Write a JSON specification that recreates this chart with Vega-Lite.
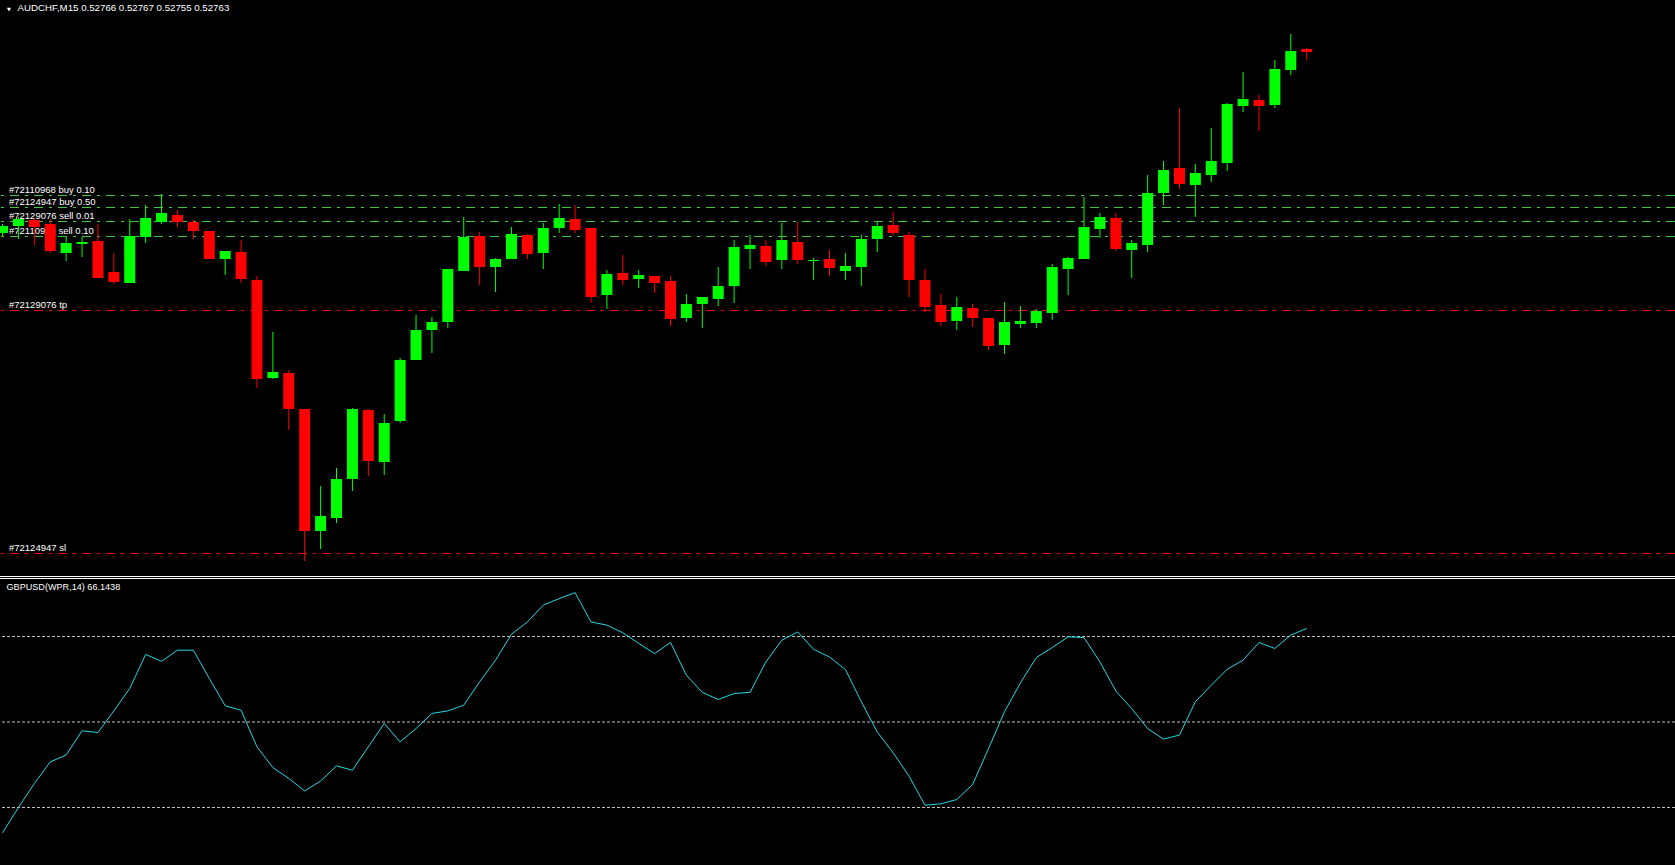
{
  "$schema": "https://vega.github.io/schema/vega-lite/v6.json",
  "width": 1675,
  "height": 865,
  "padding": 0,
  "autosize": {"type": "none"},
  "background": "#000000",
  "config": {"view": {"stroke": null}},
  "datasets": {
    "candles": [
      {"i":-1,"o":0.52582,"h":0.52591,"l":0.52579,"c":0.52589},
      {"i":0,"o":0.52589,"h":0.52598,"l":0.52576,"c":0.52596},
      {"i":1,"o":0.52595,"h":0.52597,"l":0.52570,"c":0.52588},
      {"i":2,"o":0.52591,"h":0.52596,"l":0.52562,"c":0.52564},
      {"i":3,"o":0.52562,"h":0.52578,"l":0.52554,"c":0.52572},
      {"i":4,"o":0.52571,"h":0.52578,"l":0.52558,"c":0.52573},
      {"i":5,"o":0.52574,"h":0.52591,"l":0.52537,"c":0.52537},
      {"i":6,"o":0.52543,"h":0.52562,"l":0.52531,"c":0.52533},
      {"i":7,"o":0.52532,"h":0.52596,"l":0.52532,"c":0.52579},
      {"i":8,"o":0.52578,"h":0.52610,"l":0.52572,"c":0.52597},
      {"i":9,"o":0.52593,"h":0.52621,"l":0.52591,"c":0.52602},
      {"i":10,"o":0.52600,"h":0.52605,"l":0.52588,"c":0.52593},
      {"i":11,"o":0.52593,"h":0.52595,"l":0.52576,"c":0.52584},
      {"i":12,"o":0.52584,"h":0.52584,"l":0.52556,"c":0.52556},
      {"i":13,"o":0.52556,"h":0.52564,"l":0.52540,"c":0.52564},
      {"i":14,"o":0.52563,"h":0.52575,"l":0.52532,"c":0.52536},
      {"i":15,"o":0.52535,"h":0.52539,"l":0.52427,"c":0.52436},
      {"i":16,"o":0.52437,"h":0.52483,"l":0.52436,"c":0.52443},
      {"i":17,"o":0.52442,"h":0.52445,"l":0.52385,"c":0.52406},
      {"i":18,"o":0.52406,"h":0.52406,"l":0.52254,"c":0.52284},
      {"i":19,"o":0.52284,"h":0.52329,"l":0.52266,"c":0.52299},
      {"i":20,"o":0.52297,"h":0.52347,"l":0.52292,"c":0.52336},
      {"i":21,"o":0.52336,"h":0.52407,"l":0.52324,"c":0.52406},
      {"i":22,"o":0.52405,"h":0.52406,"l":0.52339,"c":0.52354},
      {"i":23,"o":0.52353,"h":0.52401,"l":0.52340,"c":0.52392},
      {"i":24,"o":0.52394,"h":0.52457,"l":0.52392,"c":0.52455},
      {"i":25,"o":0.52455,"h":0.52500,"l":0.52455,"c":0.52485},
      {"i":26,"o":0.52485,"h":0.52498,"l":0.52462,"c":0.52493},
      {"i":27,"o":0.52493,"h":0.52546,"l":0.52487,"c":0.52546},
      {"i":28,"o":0.52544,"h":0.52598,"l":0.52544,"c":0.52578},
      {"i":29,"o":0.52579,"h":0.52583,"l":0.52530,"c":0.52548},
      {"i":30,"o":0.52548,"h":0.52557,"l":0.52523,"c":0.52556},
      {"i":31,"o":0.52556,"h":0.52588,"l":0.52556,"c":0.52581},
      {"i":32,"o":0.52580,"h":0.52581,"l":0.52556,"c":0.52561},
      {"i":33,"o":0.52562,"h":0.52592,"l":0.52546,"c":0.52587},
      {"i":34,"o":0.52587,"h":0.52611,"l":0.52582,"c":0.52597},
      {"i":35,"o":0.52596,"h":0.52610,"l":0.52582,"c":0.52585},
      {"i":36,"o":0.52587,"h":0.52587,"l":0.52512,"c":0.52518},
      {"i":37,"o":0.52520,"h":0.52545,"l":0.52506,"c":0.52541},
      {"i":38,"o":0.52542,"h":0.52560,"l":0.52530,"c":0.52535},
      {"i":39,"o":0.52536,"h":0.52545,"l":0.52527,"c":0.52540},
      {"i":40,"o":0.52539,"h":0.52539,"l":0.52522,"c":0.52532},
      {"i":41,"o":0.52534,"h":0.52539,"l":0.52489,"c":0.52496},
      {"i":42,"o":0.52497,"h":0.52521,"l":0.52493,"c":0.52511},
      {"i":43,"o":0.52511,"h":0.52518,"l":0.52487,"c":0.52518},
      {"i":44,"o":0.52516,"h":0.52548,"l":0.52509,"c":0.52529},
      {"i":45,"o":0.52529,"h":0.52575,"l":0.52512,"c":0.52568},
      {"i":46,"o":0.52566,"h":0.52580,"l":0.52546,"c":0.52570},
      {"i":47,"o":0.52569,"h":0.52575,"l":0.52549,"c":0.52553},
      {"i":48,"o":0.52555,"h":0.52592,"l":0.52546,"c":0.52575},
      {"i":49,"o":0.52573,"h":0.52593,"l":0.52551,"c":0.52555},
      {"i":50,"o":0.52554,"h":0.52557,"l":0.52535,"c":0.52555},
      {"i":51,"o":0.52556,"h":0.52565,"l":0.52539,"c":0.52547},
      {"i":52,"o":0.52544,"h":0.52562,"l":0.52535,"c":0.52549},
      {"i":53,"o":0.52548,"h":0.52580,"l":0.52529,"c":0.52576},
      {"i":54,"o":0.52576,"h":0.52593,"l":0.52563,"c":0.52589},
      {"i":55,"o":0.52590,"h":0.52603,"l":0.52580,"c":0.52582},
      {"i":56,"o":0.52580,"h":0.52583,"l":0.52518,"c":0.52535},
      {"i":57,"o":0.52535,"h":0.52546,"l":0.52503,"c":0.52508},
      {"i":58,"o":0.52510,"h":0.52521,"l":0.52489,"c":0.52493},
      {"i":59,"o":0.52494,"h":0.52518,"l":0.52485,"c":0.52508},
      {"i":60,"o":0.52507,"h":0.52511,"l":0.52488,"c":0.52497},
      {"i":61,"o":0.52497,"h":0.52497,"l":0.52465,"c":0.52469},
      {"i":62,"o":0.52470,"h":0.52513,"l":0.52461,"c":0.52493},
      {"i":63,"o":0.52491,"h":0.52509,"l":0.52487,"c":0.52494},
      {"i":64,"o":0.52492,"h":0.52506,"l":0.52487,"c":0.52504},
      {"i":65,"o":0.52502,"h":0.52551,"l":0.52495,"c":0.52548},
      {"i":66,"o":0.52546,"h":0.52558,"l":0.52520,"c":0.52557},
      {"i":67,"o":0.52556,"h":0.52618,"l":0.52556,"c":0.52588},
      {"i":68,"o":0.52586,"h":0.52602,"l":0.52577,"c":0.52598},
      {"i":69,"o":0.52597,"h":0.52602,"l":0.52564,"c":0.52566},
      {"i":70,"o":0.52565,"h":0.52575,"l":0.52537,"c":0.52572},
      {"i":71,"o":0.52570,"h":0.52640,"l":0.52563,"c":0.52622},
      {"i":72,"o":0.52622,"h":0.52654,"l":0.52610,"c":0.52645},
      {"i":73,"o":0.52647,"h":0.52707,"l":0.52626,"c":0.52631},
      {"i":74,"o":0.52630,"h":0.52651,"l":0.52598,"c":0.52642},
      {"i":75,"o":0.52640,"h":0.52687,"l":0.52633,"c":0.52654},
      {"i":76,"o":0.52652,"h":0.52712,"l":0.52644,"c":0.52711},
      {"i":77,"o":0.52709,"h":0.52743,"l":0.52703,"c":0.52716},
      {"i":78,"o":0.52715,"h":0.52720,"l":0.52684,"c":0.52709},
      {"i":79,"o":0.52710,"h":0.52755,"l":0.52707,"c":0.52746},
      {"i":80,"o":0.52745,"h":0.52781,"l":0.52740,"c":0.52764},
      {"i":81,"o":0.52766,"h":0.52767,"l":0.52755,"c":0.52763}
    ],
    "wpr": [
      {"i":-1,"w":-88.9},{"i":0,"w":-80.0},{"i":1,"w":-71.6},{"i":2,"w":-64.0},{"i":3,"w":-61.6},
      {"i":4,"w":-53.1},{"i":5,"w":-53.7},{"i":6,"w":-46.1},{"i":7,"w":-38.2},{"i":8,"w":-26.3},
      {"i":9,"w":-28.7},{"i":10,"w":-24.8},{"i":11,"w":-24.8},{"i":12,"w":-34.7},{"i":13,"w":-44.3},
      {"i":14,"w":-45.9},{"i":15,"w":-58.7},{"i":16,"w":-66.0},{"i":17,"w":-69.8},{"i":18,"w":-74.2},
      {"i":19,"w":-70.7},{"i":20,"w":-65.4},{"i":21,"w":-66.9},{"i":22,"w":-58.7},{"i":23,"w":-50.5},
      {"i":24,"w":-57.0},{"i":25,"w":-52.3},{"i":26,"w":-47.0},{"i":27,"w":-46.1},{"i":28,"w":-44.1},
      {"i":29,"w":-35.9},{"i":30,"w":-28.3},{"i":31,"w":-19.2},{"i":32,"w":-14.9},{"i":33,"w":-9.0},
      {"i":34,"w":-6.7},{"i":35,"w":-4.6},{"i":36,"w":-14.9},{"i":37,"w":-16.0},{"i":38,"w":-18.7},
      {"i":39,"w":-22.4},{"i":40,"w":-26.0},{"i":41,"w":-22.1},{"i":42,"w":-33.6},{"i":43,"w":-39.6},
      {"i":44,"w":-42.1},{"i":45,"w":-40.0},{"i":46,"w":-39.6},{"i":47,"w":-28.9},{"i":48,"w":-21.3},
      {"i":49,"w":-18.4},{"i":50,"w":-24.5},{"i":51,"w":-27.2},{"i":52,"w":-31.6},{"i":53,"w":-42.9},
      {"i":54,"w":-53.5},{"i":55,"w":-60.8},{"i":56,"w":-69.0},{"i":57,"w":-79.2},{"i":58,"w":-78.7},
      {"i":59,"w":-77.2},{"i":60,"w":-71.9},{"i":61,"w":-59.3},{"i":62,"w":-46.4},{"i":63,"w":-36.3},
      {"i":64,"w":-27.4},{"i":65,"w":-23.9},{"i":66,"w":-20.1},{"i":67,"w":-20.4},{"i":68,"w":-28.9},
      {"i":69,"w":-39.1},{"i":70,"w":-45.3},{"i":71,"w":-52.3},{"i":72,"w":-56.0},{"i":73,"w":-54.6},
      {"i":74,"w":-42.9},{"i":75,"w":-37.1},{"i":76,"w":-31.5},{"i":77,"w":-28.3},{"i":78,"w":-22.1},
      {"i":79,"w":-24.2},{"i":80,"w":-19.5},{"i":81,"w":-17.2}
    ],
    "orders": [
      {"label":"#72110968 buy 0.10","price":0.526195,"kind":"order"},
      {"label":"#72124947 buy 0.50","price":0.526075,"kind":"order"},
      {"label":"#72129076 sell 0.01","price":0.525935,"kind":"order"},
      {"label":"#72110996 sell 0.10","price":0.525785,"kind":"order"},
      {"label":"#72129076 tp","price":0.525045,"kind":"stop"},
      {"label":"#72124947 sl","price":0.522615,"kind":"stop"}
    ],
    "levels": [{"lv":-20},{"lv":-50},{"lv":-80}]
  },
  "layer": [
    {
      "layer": [
        {
          "data": {"name": "orders"},
          "mark": {"type": "rule", "strokeWidth": 1, "strokeDash": [9, 6, 3, 6]},
          "encoding": {
            "y": {"field": "price", "type": "quantitative", "scale": {"domain": [0.5195, 0.52815], "zero": false, "nice": false}, "axis": null},
            "color": {"field": "kind", "type": "nominal", "scale": {"domain": ["order", "stop"], "range": ["#3cc83c", "#ff0000"]}, "legend": null}
          }
        },
        {
          "data": {"values": [{}]},
          "mark": {"type": "rule", "strokeWidth": 1, "color": "#ffffff"},
          "encoding": {"y": {"datum": 0.522385, "type": "quantitative"}}
        },
        {
          "data": {"values": [{}]},
          "mark": {"type": "rule", "strokeWidth": 1, "color": "#ffffff"},
          "encoding": {"y": {"datum": 0.522365, "type": "quantitative"}}
        },
        {
          "data": {"name": "orders"},
          "mark": {"type": "text", "align": "left", "baseline": "alphabetic", "dy": -2.5, "font": "Liberation Sans", "fontSize": 9.5, "color": "#ffffff"},
          "encoding": {
            "x": {"datum": -0.594, "type": "quantitative", "scale": {"domain": [-0.84375, 103.84375], "zero": false, "nice": false}, "axis": null},
            "y": {"field": "price", "type": "quantitative"},
            "text": {"field": "label"}
          }
        },
        {
          "data": {"name": "candles"},
          "mark": {"type": "rule", "strokeWidth": 1, "clip": true},
          "encoding": {
            "x": {"field": "i", "type": "quantitative", "scale": {"domain": [-0.84375, 103.84375], "zero": false, "nice": false}, "axis": null},
            "y": {"field": "l", "type": "quantitative"},
            "y2": {"field": "h"},
            "color": {"condition": {"test": "datum.c >= datum.o", "value": "#00ff00"}, "value": "#ff0000"}
          }
        },
        {
          "data": {"name": "candles"},
          "mark": {"type": "bar", "size": 11, "clip": true},
          "encoding": {
            "x": {"field": "i", "type": "quantitative"},
            "y": {"field": "o", "type": "quantitative"},
            "y2": {"field": "c"},
            "color": {"condition": {"test": "datum.c >= datum.o", "value": "#00ff00"}, "value": "#ff0000"}
          }
        },
        {
          "data": {"values": [{}]},
          "mark": {"type": "point", "shape": "triangle-down", "filled": true, "size": 18, "color": "#ffffff", "opacity": 1},
          "encoding": {
            "x": {"datum": -0.594, "type": "quantitative"},
            "y": {"datum": 0.528053, "type": "quantitative"}
          }
        },
        {
          "data": {"values": [{}]},
          "mark": {"type": "text", "align": "left", "baseline": "middle", "font": "Liberation Sans", "fontSize": 9.7, "color": "#ffffff", "text": "AUDCHF,M15  0.52766 0.52767 0.52755 0.52763"},
          "encoding": {
            "x": {"datum": -0.05, "type": "quantitative"},
            "y": {"datum": 0.52807, "type": "quantitative"}
          }
        }
      ]
    },
    {
      "layer": [
        {
          "data": {"name": "levels"},
          "mark": {"type": "rule", "strokeWidth": 1, "strokeDash": [3, 2], "color": "#c0c0c0"},
          "encoding": {
            "y": {"field": "lv", "type": "quantitative", "scale": {"domain": [-100.175, 203.333], "zero": false, "nice": false}, "axis": null}
          }
        },
        {
          "data": {"name": "wpr"},
          "mark": {"type": "line", "strokeWidth": 1, "color": "#22d8e6", "clip": true},
          "encoding": {
            "x": {"field": "i", "type": "quantitative"},
            "y": {"field": "w", "type": "quantitative"}
          }
        },
        {
          "data": {"values": [{}]},
          "mark": {"type": "text", "align": "left", "baseline": "middle", "font": "Liberation Sans", "fontSize": 9.1, "color": "#ffffff", "text": "GBPUSD(WPR,14) 66.1438"},
          "encoding": {
            "x": {"datum": -0.75, "type": "quantitative"},
            "y": {"datum": -2.7, "type": "quantitative"}
          }
        }
      ]
    }
  ],
  "resolve": {"scale": {"y": "independent"}}
}
